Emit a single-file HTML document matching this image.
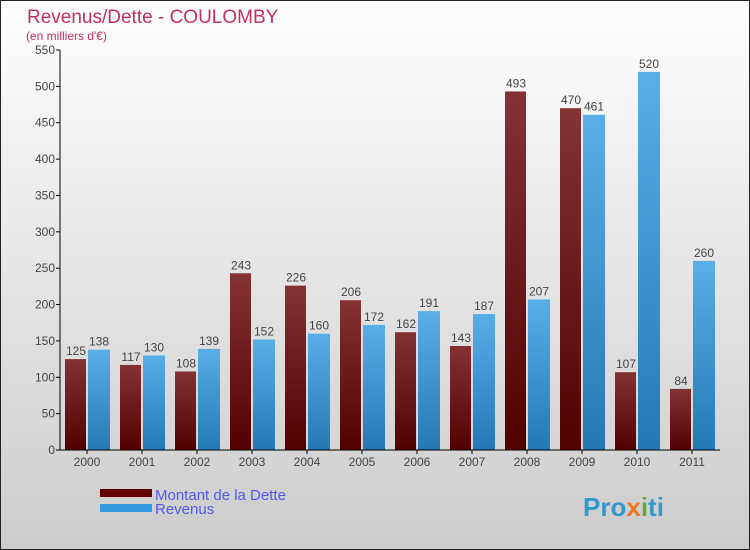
<!DOCTYPE html>
<html><head><meta charset="utf-8"><style>
body{margin:0;width:750px;height:550px;overflow:hidden}
svg{display:block;font-family:"Liberation Sans",sans-serif}
</style></head><body>
<svg id="c" width="750" height="550">
<defs>
<linearGradient id="bg" x1="0" y1="0" x2="0" y2="1"><stop offset="0" stop-color="#fefefe"/><stop offset="1" stop-color="#cccccc"/></linearGradient>
<linearGradient id="gd" x1="0" y1="0" x2="0" y2="1"><stop offset="0" stop-color="#853235"/><stop offset="1" stop-color="#520000"/></linearGradient>
<linearGradient id="gr" x1="0" y1="0" x2="0" y2="1"><stop offset="0" stop-color="#5aaee8"/><stop offset="1" stop-color="#2478b4"/></linearGradient>
</defs>
<rect x="0.5" y="0.5" width="749" height="549" fill="url(#bg)" stroke="#222"/>
<text x="27" y="23" font-size="19" fill="#c2305e">Revenus/Dette - COULOMBY</text>
<text x="26" y="40" font-size="12" fill="#c2305e">(en milliers d'€)</text>
<g id="plot"></g>
<rect x="100" y="489" width="52" height="8" fill="#600000"/>
<rect x="100" y="504" width="52" height="8" fill="#3399dd"/>
<text x="155" y="500" font-size="15" fill="#5555ee">Montant de la Dette</text>
<text x="155" y="514" font-size="15" fill="#5555ee">Revenus</text>
<text x="583" y="516" font-size="26" font-weight="bold" fill="#3399cc">Pro<tspan fill="#ee7722">x</tspan><tspan fill="#66aa33">i</tspan>ti</text>
</svg>
<script>
const years=["2000","2001","2002","2003","2004","2005","2006","2007","2008","2009","2010","2011"];
const dette=[125,117,108,243,226,206,162,143,493,470,107,84];
const revenus=[138,130,139,152,160,172,191,187,207,461,520,260];
const yTicks=[0,50,100,150,200,250,300,350,400,450,500,550];
const NS="http://www.w3.org/2000/svg";
const g=document.getElementById('plot');
const y0=450,yMax=550,ph=400,x0=60,step=55,bw=22;
const yS=v=>y0-v/yMax*ph;
const xC=i=>x0+27+i*step;
function el(t,a,txt){const e=document.createElementNS(NS,t);for(const k in a)e.setAttribute(k,a[k]);if(txt!==undefined)e.textContent=txt;g.appendChild(e);return e;}
yTicks.forEach(v=>{
 const t=el('line',{x1:x0-4,x2:x0,y1:yS(v),y2:yS(v),stroke:'#000'});
 
 
 const l=el('text',{x:x0-5,y:yS(v)+4,'font-size':12,fill:'#444','text-anchor':'end'},v);
 
 
});
years.forEach((yr,i)=>{
 const c=xC(i);
 const b1=el('rect',{x:c-bw,y:yS(dette[i]),width:bw-1,height:y0-yS(dette[i]),fill:'url(#gd)'});
 
 
 const b2=el('rect',{x:c+1,y:yS(revenus[i]),width:bw,height:y0-yS(revenus[i]),fill:'url(#gr)'});
 
 
 const v1=el('text',{x:c-bw/2,y:yS(dette[i])-4,'font-size':12,fill:'#444','text-anchor':'middle'},dette[i]);
 
 
 const v2=el('text',{x:c+bw/2+1,y:yS(revenus[i])-4,'font-size':12,fill:'#444','text-anchor':'middle'},revenus[i]);
 
 
 const tk=el('line',{x1:c,x2:c,y1:y0,y2:y0+4,stroke:'#000'});
 
 
 const xl=el('text',{x:c,y:y0+16,'font-size':12,fill:'#444','text-anchor':'middle'},yr);
 
 
});
const ya=el('line',{x1:x0,x2:x0,y1:yS(550),y2:y0,stroke:'#000'});


const xa=el('line',{x1:x0,x2:x0+12*step,y1:y0,y2:y0,stroke:'#000'});


</script>
</body></html>
